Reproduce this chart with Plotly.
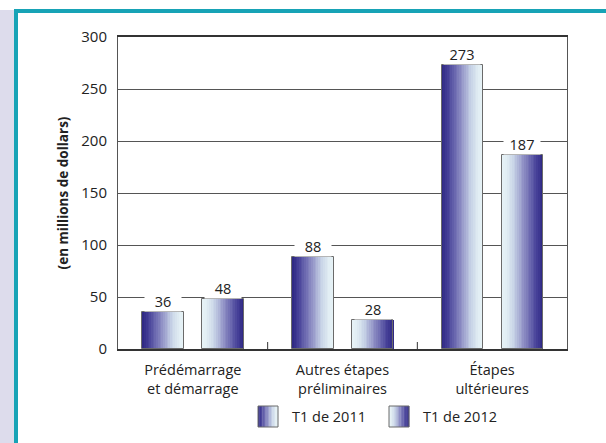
import plotly.graph_objects as go

# Data
categories = ["Prédémarrage<br>et démarrage", "Autres étapes<br>préliminaires", "Étapes<br>ultérieures"]
series_names = ["T1 de 2011", "T1 de 2012"]
values_2011 = [36, 88, 273]
values_2012 = [48, 28, 187]
y_ticks = [0, 50, 100, 150, 200, 250, 300]

FONT = "Open Sans"
W, H = 606, 443
L, R, T, B = 118, 567, 37, 349   # plot area in pixels

def px(x):
    return (x - L) / (R - L)

def py(y):
    return (B - y) / (B - T)

# colour ramp: dark navy -> pale cyan-white
stops = [(0.0, (44, 38, 130)), (0.15, (70, 64, 152)), (0.45, (138, 138, 194)),
         (0.7, (198, 210, 230)), (0.88, (225, 237, 243)), (1.0, (231, 243, 247))]

def ramp(t):
    for (t0, c0), (t1, c1) in zip(stops[:-1], stops[1:]):
        if t <= t1:
            f = (t - t0) / (t1 - t0) if t1 > t0 else 0
            c = [round(a + (b - a) * f) for a, b in zip(c0, c1)]
            return "rgb(%d,%d,%d)" % tuple(c)
    return "rgb(%d,%d,%d)" % stops[-1][1]

N = 24
BW = 0.277
offsets = [-0.337, 0.063]
x_idx = list(range(len(categories)))

fig = go.Figure()

for s, vals in enumerate([values_2011, values_2012]):
    for i in range(N):
        t = (i + 0.5) / N
        col = ramp(t if s == 0 else 1 - t)
        fig.add_trace(go.Bar(
            x=x_idx, y=vals, width=BW / N + 0.002, offset=offsets[s] + i * BW / N,
            marker=dict(color=col, line=dict(width=0)),
            showlegend=False, hoverinfo="skip"))
    # outline
    fig.add_trace(go.Bar(
        x=x_idx, y=vals, width=BW, offset=offsets[s], name=series_names[s],
        marker=dict(color="rgba(0,0,0,0)", line=dict(color="#6a6a6a", width=1)),
        showlegend=False))

# value labels
for s, vals in enumerate([values_2011, values_2012]):
    for i, v in enumerate(vals):
        fig.add_annotation(x=i + offsets[s] + BW / 2, y=v, text=str(v), showarrow=False,
                           yanchor="bottom", yshift=0, bgcolor="white", width=36,
                           borderpad=0, font=dict(family=FONT, size=14.5, color="#222"))

shapes = []
# lavender side strip and teal frame
shapes.append(dict(type="rect", xref="paper", yref="paper", x0=px(0), x1=px(15),
                   y0=py(H), y1=py(10), fillcolor="#dddcec", line=dict(width=0), layer="below"))
shapes.append(dict(type="rect", xref="paper", yref="paper", x0=px(14), x1=px(W + 2),
                   y0=py(13), y1=py(9), fillcolor="#17a3b6", line=dict(width=0)))
shapes.append(dict(type="rect", xref="paper", yref="paper", x0=px(14), x1=px(18),
                   y0=py(H + 2), y1=py(9), fillcolor="#17a3b6", line=dict(width=0)))

# category separator ticks pointing up from the baseline
for xb in [0.5, 1.5]:
    shapes.append(dict(type="line", xref="x", yref="paper", x0=xb, x1=xb,
                       y0=0, y1=7 / (B - T), line=dict(color="#333", width=1)))

# legend swatches with the same ramp
legend_items = [(258, 290), (389, 421)]
for s, (sx, tx) in enumerate(legend_items):
    sw, y0, y1 = 20, 406, 427
    M = 14
    for i in range(M):
        t = (i + 0.5) / M
        col = ramp(t if s == 0 else 1 - t)
        shapes.append(dict(type="rect", xref="paper", yref="paper",
                           x0=px(sx + i * sw / M), x1=px(sx + (i + 1) * sw / M + 0.3),
                           y0=py(y1), y1=py(y0), fillcolor=col, line=dict(width=0)))
    shapes.append(dict(type="rect", xref="paper", yref="paper", x0=px(sx), x1=px(sx + sw),
                       y0=py(y1), y1=py(y0), fillcolor="rgba(0,0,0,0)",
                       line=dict(color="#6a6a6a", width=1)))
    fig.add_annotation(xref="paper", yref="paper", x=px(tx), y=py(416.5), text=series_names[s],
                       showarrow=False, xanchor="left", yanchor="middle",
                       font=dict(family=FONT, size=14.5, color="#222"))

fig.update_layout(
    width=W, height=H,
    margin=dict(l=L, r=W - R, t=T, b=H - B),
    paper_bgcolor="white", plot_bgcolor="white",
    barmode="overlay", bargap=0,
    shapes=shapes,
    font=dict(family=FONT, size=14.5, color="#222"),
    xaxis=dict(
        type="linear", range=[-0.5, 2.5], tickvals=x_idx, ticktext=categories,
        showgrid=False, zeroline=False, showline=True, linecolor="#333", linewidth=1.5,
        mirror=True, ticks="", ticklabelstandoff=7,
        tickfont=dict(family=FONT, size=14.5, color="#222"),
    ),
    yaxis=dict(
        range=[0, 300], tickvals=y_ticks, showgrid=True, gridcolor="#555", gridwidth=1.2,
        zeroline=False, showline=True, linecolor="#555", linewidth=1, mirror=True,
        ticks="", ticklabelstandoff=7, tickfont=dict(family=FONT, size=15, color="#222"),
        title=dict(text="<b>(en millions de dollars)</b>", standoff=9,
                   font=dict(family=FONT, size=13.5, color="#222")),
    ),
)

fig.write_html("out.html")
